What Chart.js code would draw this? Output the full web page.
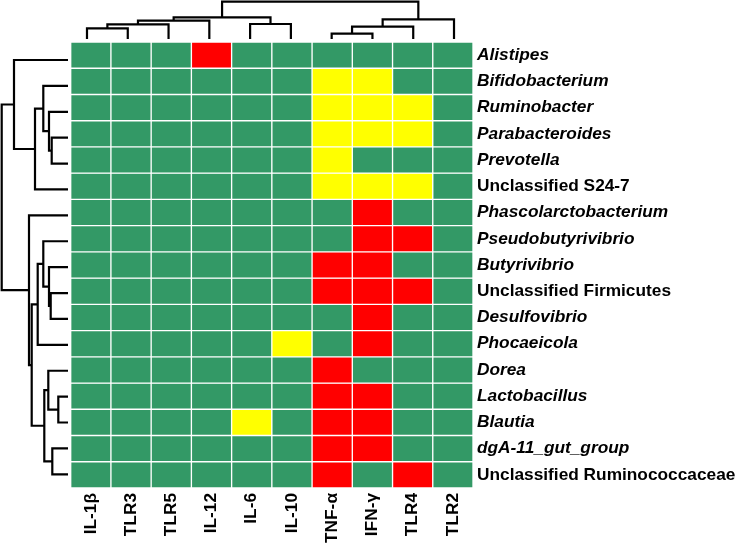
<!DOCTYPE html>
<html>
<head>
<meta charset="utf-8">
<script src="https://cdn.jsdelivr.net/npm/chart.js@4.4.0/dist/chart.umd.min.js"></script>
<style>
  html, body { margin: 0; padding: 0; background: #fff; }
  #wrap { position: relative; width: 737px; height: 545px; }
  #wrap canvas { position: absolute; left: 0; top: 0; }
</style>
</head>
<body>
<div id="wrap">
  <canvas id="heat" width="737" height="545"></canvas>
  <canvas id="topTree" width="737" height="545"></canvas>
  <canvas id="leftTree" width="737" height="545"></canvas>
</div>
<script>
// columns, in dendrogram order
const cytokines = ['IL-1β', 'TLR3', 'TLR5', 'IL-12', 'IL-6', 'IL-10', 'TNF-α', 'IFN-γ', 'TLR4', 'TLR2'];

// rows, in dendrogram order
const genera = [
  'Alistipes', 'Bifidobacterium', 'Ruminobacter', 'Parabacteroides', 'Prevotella',
  'Unclassified S24-7', 'Phascolarctobacterium', 'Pseudobutyrivibrio', 'Butyrivibrio',
  'Unclassified Firmicutes', 'Desulfovibrio', 'Phocaeicola', 'Dorea', 'Lactobacillus',
  'Blautia', 'dgA-11_gut_group', 'Unclassified Ruminococcaceae'
];

// 0 = not significant, 1 = positive, -1 = negative
const cells = [
  [0, 0, 0, 1, 0, 0, 0, 0, 0, 0],
  [0, 0, 0, 0, 0, 0, -1, -1, 0, 0],
  [0, 0, 0, 0, 0, 0, -1, -1, -1, 0],
  [0, 0, 0, 0, 0, 0, -1, -1, -1, 0],
  [0, 0, 0, 0, 0, 0, -1, 0, 0, 0],
  [0, 0, 0, 0, 0, 0, -1, -1, -1, 0],
  [0, 0, 0, 0, 0, 0, 0, 1, 0, 0],
  [0, 0, 0, 0, 0, 0, 0, 1, 1, 0],
  [0, 0, 0, 0, 0, 0, 1, 1, 0, 0],
  [0, 0, 0, 0, 0, 0, 1, 1, 1, 0],
  [0, 0, 0, 0, 0, 0, 0, 1, 0, 0],
  [0, 0, 0, 0, 0, -1, 0, 1, 0, 0],
  [0, 0, 0, 0, 0, 0, 1, 0, 0, 0],
  [0, 0, 0, 0, 0, 0, 1, 1, 0, 0],
  [0, 0, 0, 0, -1, 0, 1, 1, 0, 0],
  [0, 0, 0, 0, 0, 0, 1, 1, 0, 0],
  [0, 0, 0, 0, 0, 0, 1, 0, 1, 0]
];

// linkage: [child a, child b, height]; leaves are 0..n-1, new clusters get n, n+1, ...
const colMerges = [
  [0, 1, 10.7], [10, 2, 14.7], [11, 3, 18.3], [4, 5, 15.0], [12, 13, 21.7],
  [6, 7, 5.3], [15, 8, 12.3], [16, 9, 19.7], [14, 17, 37.3]
];
const rowMerges = [
  [3, 4, 16.3], [2, 17, 19.0], [1, 18, 24.7], [19, 5, 33.0], [0, 20, 54.0],
  [9, 10, 17.3], [8, 22, 19.0], [7, 23, 24.7], [24, 11, 30.3],
  [13, 14, 9.7], [12, 26, 19.7], [15, 16, 15.7], [27, 28, 23.7],
  [25, 29, 36.3], [6, 30, 39.0], [21, 31, 66.3]
];

const palette = { '0': '#339966', '1': '#ff0000', '-1': '#ffff00' };
const fontFamily = "'Liberation Sans', Arial, sans-serif";
const labelSize = 17.3;

// heatmap: one stacked bar dataset per row
new Chart(document.getElementById('heat'), {
  type: 'bar',
  data: {
    labels: cytokines,
    datasets: genera.map((name, r) => ({
      label: name,
      data: cytokines.map(() => 1),
      backgroundColor: cells[r].map(v => palette[v]),
      borderColor: '#ffffff',
      borderWidth: 1,
      borderSkipped: false,
      barPercentage: 1,
      categoryPercentage: 1
    }))
  },
  options: {
    responsive: false,
    animation: false,
    layout: { padding: { left: 70.7, top: 42, right: 0, bottom: 0 } },
    plugins: { legend: { display: false }, tooltip: { enabled: false } },
    scales: {
      x: {
        stacked: true,
        grid: { display: false, drawTicks: false },
        border: { display: false },
        ticks: {
          color: '#000',
          autoSkip: false,
          minRotation: 90,
          maxRotation: 90,
          padding: 5,
          font: { family: fontFamily, size: labelSize, weight: 'bold' }
        },
        afterFit: (scale) => { scale.height = 57; }
      },
      y: { stacked: true, min: 0, max: genera.length, reverse: true, display: false },
      yNames: {
        type: 'category',
        axis: 'y',
        labels: genera,
        position: 'right',
        offset: true,
        grid: { display: false, drawTicks: false },
        border: { display: false },
        ticks: {
          color: '#000',
          autoSkip: false,
          padding: 4,
          font: (ctx) => ({
            family: fontFamily,
            size: labelSize,
            weight: 'bold',
            style: genera[ctx.index] && genera[ctx.index].startsWith('Unclassified') ? 'normal' : 'italic'
          })
        },
        afterFit: (scale) => { scale.width = 264; }
      }
    }
  }
});

// dendrogram segments: each merge gives a bracket of 4 points (position, height)
function treeSegments(merges, nLeaves) {
  const pos = [], height = [];
  for (let i = 0; i < nLeaves; i++) { pos.push(i); height.push(0); }
  return merges.map(([a, b, h]) => {
    const seg = [[pos[a], height[a]], [pos[a], h], [pos[b], h], [pos[b], height[b]]];
    pos.push((pos[a] + pos[b]) / 2);
    height.push(h);
    return seg;
  });
}

const lineStyle = {
  showLine: true,
  borderColor: '#000',
  borderWidth: 2.2,
  pointRadius: 0,
  fill: false,
  tension: 0,
  clip: false,
  borderJoinStyle: 'miter'
};

const hidden = { display: false };

new Chart(document.getElementById('topTree'), {
  type: 'scatter',
  data: {
    datasets: treeSegments(colMerges, cytokines.length).map(seg => ({
      ...lineStyle,
      data: seg.map(([p, h]) => ({ x: p, y: h }))
    }))
  },
  options: {
    responsive: false,
    animation: false,
    layout: { padding: { left: 66.6, right: 262.6, top: 1.7, bottom: 506 } },
    plugins: { legend: hidden, tooltip: { enabled: false } },
    scales: {
      x: { type: 'linear', min: -0.5, max: cytokines.length - 0.5, display: false },
      y: { type: 'linear', min: 0, max: 37.3, display: false }
    }
  }
});

new Chart(document.getElementById('leftTree'), {
  type: 'scatter',
  data: {
    datasets: treeSegments(rowMerges, genera.length).map(seg => ({
      ...lineStyle,
      data: seg.map(([p, h]) => ({ x: h, y: p }))
    }))
  },
  options: {
    responsive: false,
    animation: false,
    layout: { padding: { left: 1.7, right: 669, top: 47.05, bottom: 57.75 } },
    plugins: { legend: hidden, tooltip: { enabled: false } },
    scales: {
      x: { type: 'linear', min: 0, max: 66.3, reverse: true, display: false },
      y: { type: 'linear', min: -0.5, max: genera.length - 0.5, reverse: true, display: false }
    }
  }
});
</script>
</body>
</html>
